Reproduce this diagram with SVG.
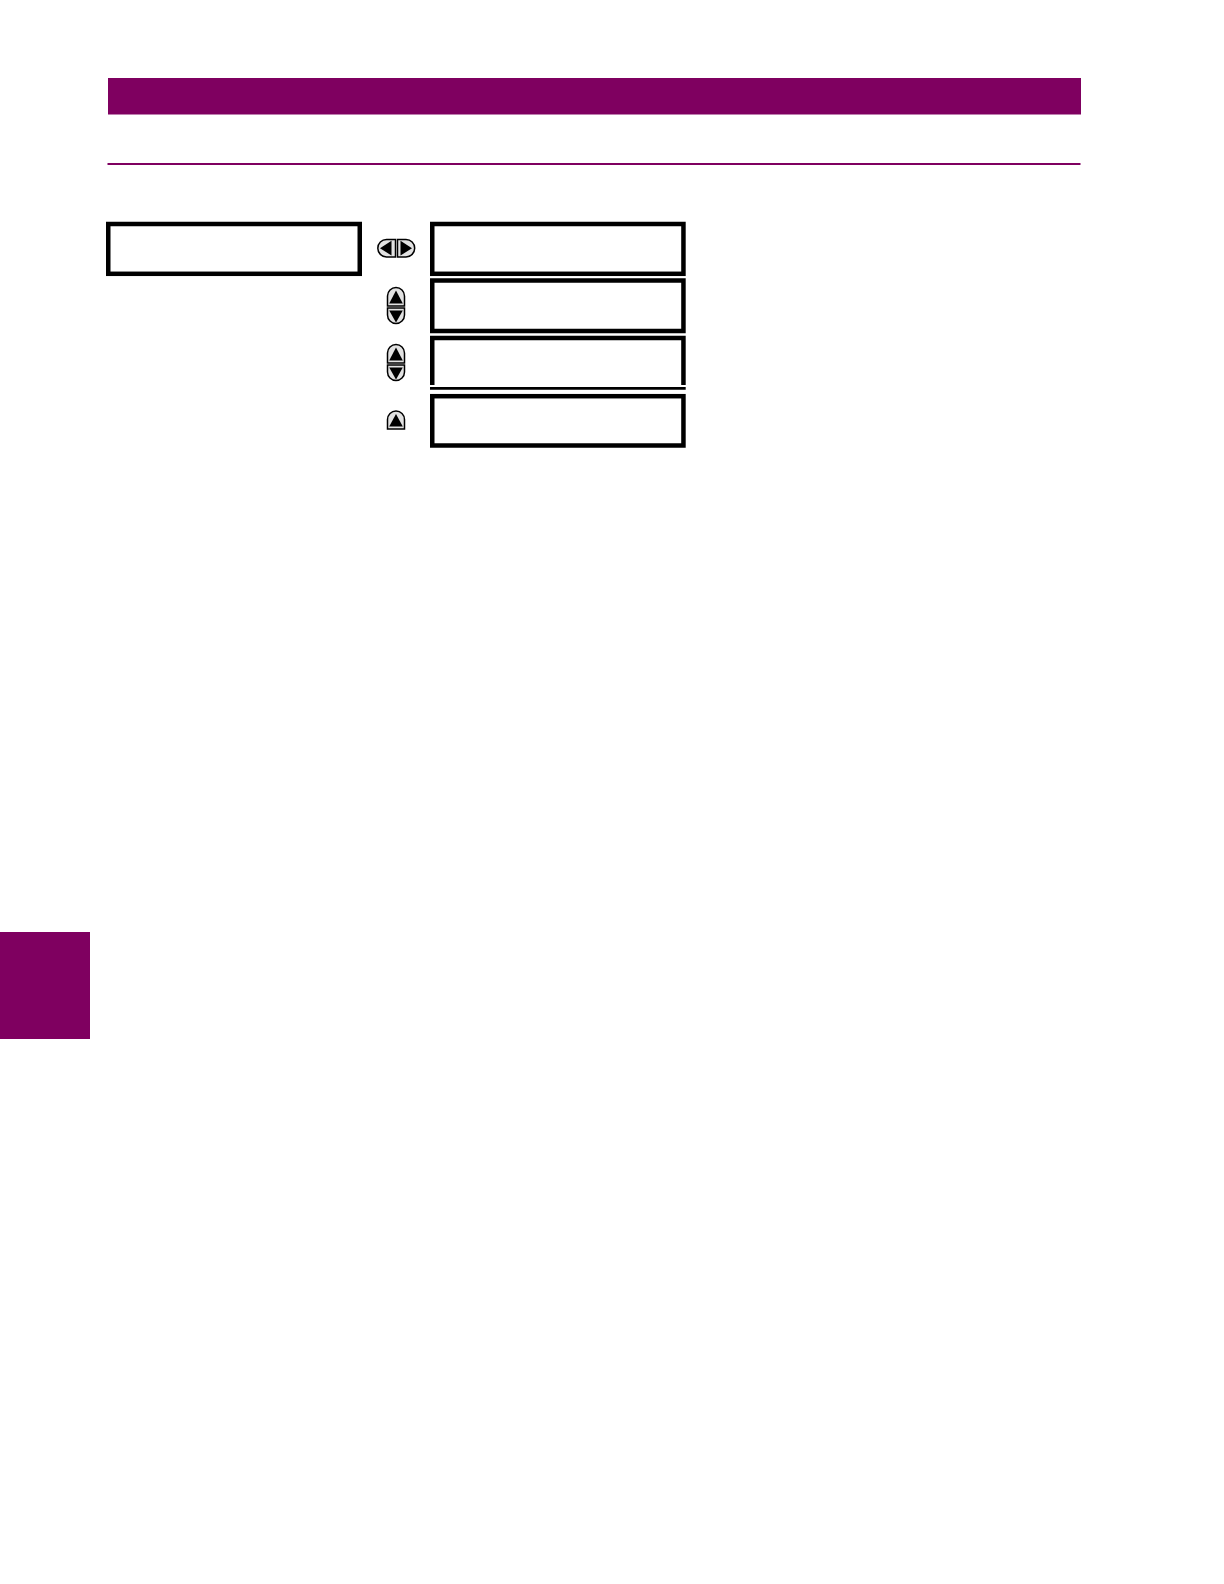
<svg xmlns="http://www.w3.org/2000/svg" width="1224" height="1584" viewBox="0 0 1224 1584">
<style>
.band{fill:#7f0060}
.box{fill:#fff;stroke:#000;stroke-width:4.5}
.btn{fill:#e2e2e2;stroke:#000;stroke-width:1.5}
.tri{fill:#000}
</style>
<rect width="1224" height="1584" fill="#fff"/>
<rect id="header" class="band" x="108" y="78" width="973" height="36.5"/>
<rect id="rule" class="band" x="107.5" y="163" width="973" height="2"/>
<rect id="tab" class="band" x="0" y="932" width="90" height="107"/>
<g id="node-menu"><rect class="box" x="108.25" y="224" width="251.5" height="49.8"/></g>
<g id="node-1"><rect class="box" x="432.25" y="224" width="251.2" height="49.8"/></g>
<g id="node-2"><rect class="box" x="432.25" y="280.5" width="251.2" height="50.5"/></g>
<g id="node-3"><path class="box" d="M432.25,385 V338 H683.45 V385"/><line x1="430" y1="388.4" x2="685.7" y2="388.4" stroke="#000" stroke-width="2.8"/></g>
<g id="node-4"><rect class="box" x="432.25" y="396.2" width="251.2" height="49.3"/></g>
<g id="connectors">
  <g id="btn-leftright">
    <path class="btn" d="M395.5,239.5 H386.5 A8.7,8.7 0 0 0 386.5,256.9 H395.5 Z"/>
    <path class="tri" d="M380,248.2 L391.5,240.8 L391.5,255.6 Z"/>
    <path class="btn" d="M397.5,239.5 H406 A8.7,8.7 0 0 1 406,256.9 H397.5 Z"/>
    <path class="tri" d="M412,248.2 L400.5,240.8 L400.5,255.6 Z"/>
  </g>
  <g id="btn-updown-1">
    <path class="btn" d="M387.5,306 V296 A8.5,8.5 0 0 1 404.5,296 V306 Z"/>
    <path class="tri" d="M389.2,303.5 L396,290.5 L402.8,303.5 Z"/>
    <path class="btn" d="M387.5,308 V315 A8.5,8.5 0 0 0 404.5,315 V308 Z"/>
    <path class="tri" d="M389.2,310.5 L396,322.5 L402.8,310.5 Z"/>
  </g>
  <g id="btn-updown-2">
    <path class="btn" d="M387.5,363 V353 A8.5,8.5 0 0 1 404.5,353 V363 Z"/>
    <path class="tri" d="M389.2,360.5 L396,347.5 L402.8,360.5 Z"/>
    <path class="btn" d="M387.5,365 V372 A8.5,8.5 0 0 0 404.5,372 V365 Z"/>
    <path class="tri" d="M389.2,367.5 L396,379.5 L402.8,367.5 Z"/>
  </g>
  <g id="btn-up">
    <path class="btn" d="M387.5,429 V419.5 A8.5,8.5 0 0 1 404.5,419.5 V429 Z"/>
    <path class="tri" d="M389.2,426.5 L396,414 L402.8,426.5 Z"/>
  </g>
</g>
</svg>
